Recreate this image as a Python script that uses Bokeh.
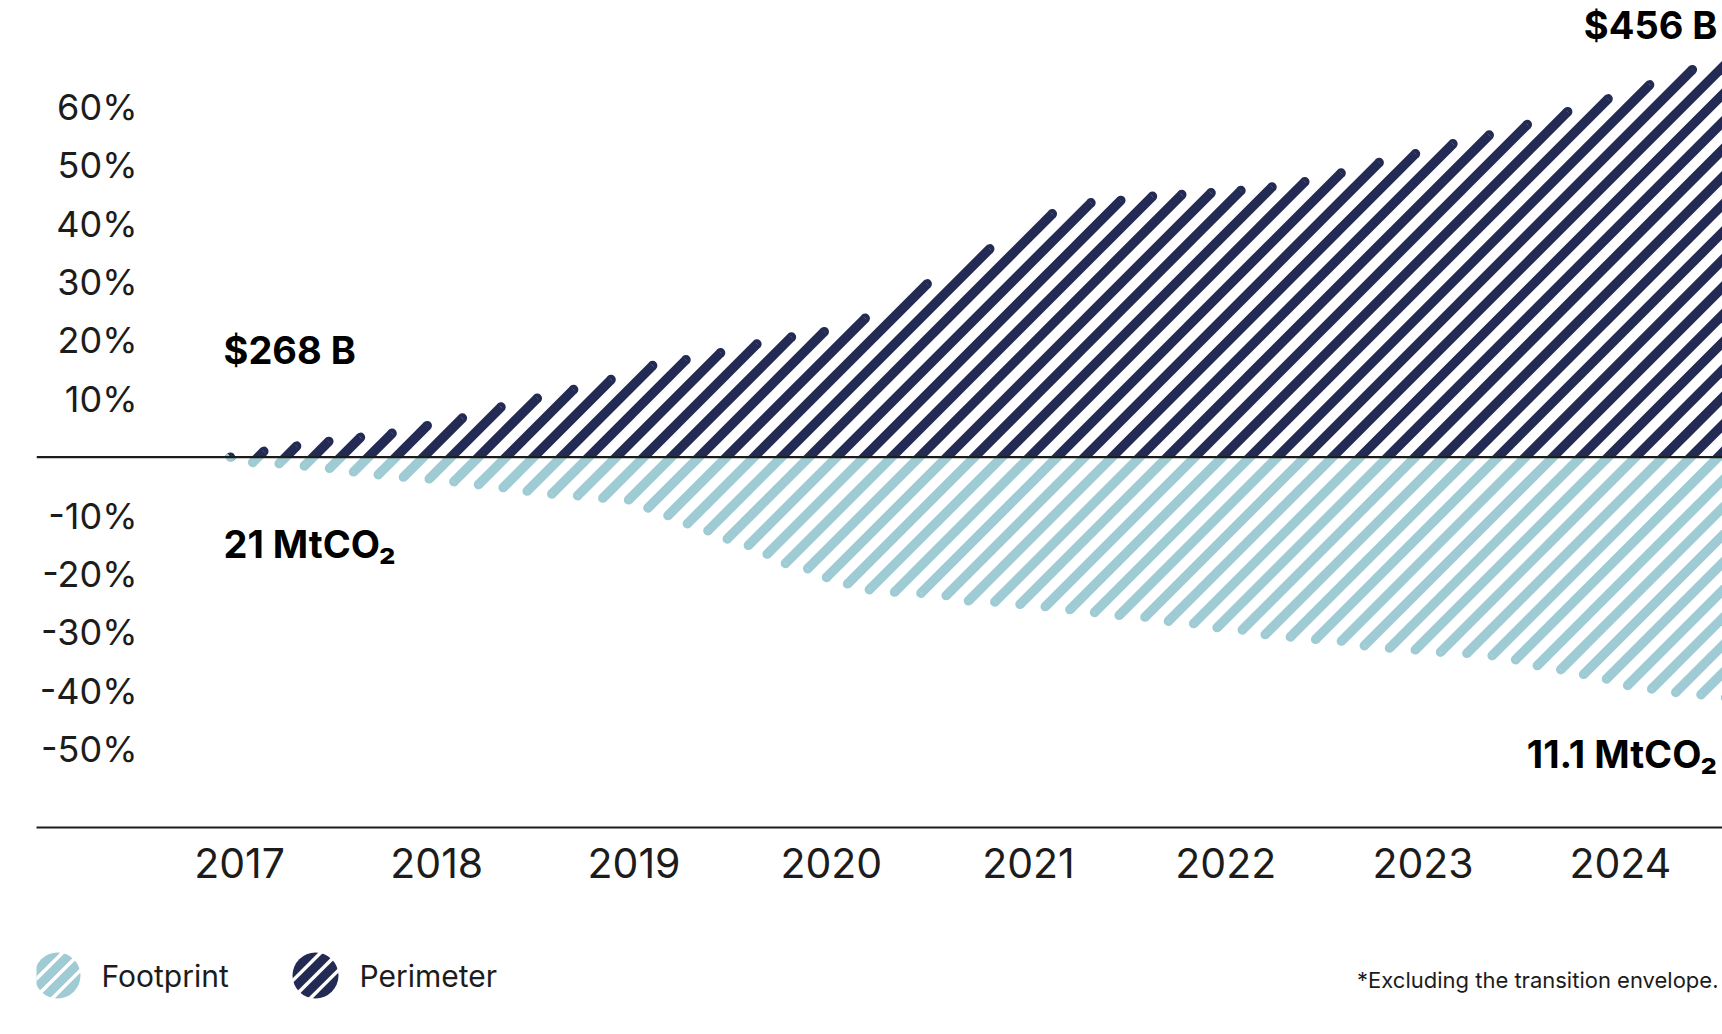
import numpy as np
from bokeh.plotting import figure
from bokeh.models import Range1d, FixedTicker, PrintfTickFormatter, Span, Label
from bokeh.layouts import column
from bokeh.embed import file_html
from bokeh.resources import INLINE
from bokeh.core.properties import value

# ---------------- data ----------------
year_ticks = [2017, 2018, 2019, 2020, 2021, 2022, 2023, 2024]
pct_ticks = [-50, -40, -30, -20, -10, 10, 20, 30, 40, 50, 60]

# each stripe crosses the zero line at a date (decimal years)
stripe_start = 2016.954
stripe_step = 0.13966

# Perimeter change vs. start (%), one value per stripe
perimeter_pct = [0.0, 1.0, 1.9, 2.7, 3.4, 4.1, 5.4, 6.7, 8.6, 10.1,
                 11.6, 13.3, 15.7, 16.7, 17.9, 19.4, 20.6, 21.5, 23.8, 29.7,
                 35.7, 41.7, 43.6, 44.0, 44.7, 45.0, 45.3, 45.7, 46.3, 47.2,
                 48.7, 50.5, 52.0, 53.7, 55.2, 57.0, 59.2, 61.4, 63.8, 66.4,
                 68.6, 69.4, 69.8, 70.0, 70.0, 70.0, 70.0, 70.0, 70.0, 70.0,
                 70.0, 70.0, 70.0, 70.0, 70.0]

# Footprint reduction vs. start (%), one value per stripe
footprint_pct = [0.0, 0.9, 1.1, 1.5, 1.9, 2.5, 3.0, 3.4, 3.7, 4.2,
                 4.7, 5.2, 5.8, 6.3, 6.6, 7.0, 7.3, 8.7, 10.0, 11.4,
                 12.6, 14.0, 15.1, 16.6, 18.2, 19.1, 20.6, 21.7, 22.7, 23.1,
                 23.3, 23.7, 24.6, 24.8, 25.2, 25.6, 26.1, 26.6, 27.1, 27.4,
                 28.1, 28.5, 29.2, 29.6, 30.4, 30.8, 31.2, 31.5, 32.3, 32.7,
                 33.0, 33.4, 33.6, 34.0, 34.7, 35.7, 36.4, 37.2, 38.0, 39.1,
                 39.7, 40.3, 40.7, 41.2]

series_names = ["Footprint", "Perimeter"]
perimeter_start, perimeter_end = "$268 B", "$456 B"
footprint_start, footprint_end = "21 MtCO\u2082", "11.1 MtCO\u2082"
footnote = "*Excluding the transition envelope."

# ---------------- style ----------------
NAVY = "#232a53"
TEAL = "#9ecbd4"
INK = "#1c1c1c"
FONT = "Inter"

LEFT = 36
TOTAL_W = 1722
FW, FH = TOTAL_W - LEFT, 819
PX_PER_YEAR = 197.26
PX_PER_PCT = 5.836
X0 = 2017 + (LEFT - 239) / PX_PER_YEAR
X1 = X0 + FW / PX_PER_YEAR
Y1 = 76.886
Y0 = Y1 - FH / PX_PER_PCT
W = 9.5  # stripe thickness in px

p = figure(frame_width=FW, frame_height=FH,
           x_range=Range1d(X0, X1), y_range=Range1d(Y0, Y1),
           output_backend="svg", toolbar_location=None,
           min_border_left=LEFT, min_border_right=0,
           min_border_top=8, min_border_bottom=90)
p.outline_line_color = None
p.grid.visible = False
p.background_fill_color = "white"
p.border_fill_color = "white"


def stripe_geometry(vals, sign):
    v = sign * np.asarray(vals, dtype=float)
    b = stripe_start + stripe_step * np.arange(len(v))
    ux = 1.0 / PX_PER_YEAR
    uy = 1.0 / PX_PER_PCT
    xe = b + v * PX_PER_PCT / PX_PER_YEAR  # 45 degree stripes on screen
    hw = W / np.sqrt(2)
    q = W / (2 * np.sqrt(2))
    xs = [[bi - hw * ux, bi + hw * ux, xi + q * ux, xi - q * ux] for bi, xi in zip(b, xe)]
    ys = [[0.0, 0.0, vi - q * uy, vi + q * uy] for vi in v]
    return xs, ys, xe, v


for vals, sign, color, a0, a1 in [
    (perimeter_pct, 1, NAVY, -55, 145),
    (footprint_pct, -1, TEAL, 125, 325),
]:
    xs, ys, xe, v = stripe_geometry(vals, sign)
    p.patches(xs, ys, fill_color=color, line_color=None)
    p.wedge(x=xe, y=v, radius=W / 2, radius_units="screen",
            start_angle=np.radians(a0), end_angle=np.radians(a1),
            fill_color=color, line_color=None)

p.add_layout(Span(location=0, dimension="width", line_color=INK, line_width=2.2))

# x axis
xa = p.xaxis[0]
xa.ticker = FixedTicker(ticks=year_ticks)
xa.formatter = PrintfTickFormatter(format="%d")
xa.axis_line_color = INK
xa.axis_line_width = 2.2
xa.major_tick_line_color = None
xa.minor_tick_line_color = None
xa.major_tick_out = 0
xa.major_tick_in = 0
xa.minor_tick_out = 0
xa.minor_tick_in = 0
xa.major_label_standoff = 20
xa.major_label_text_font = FONT
xa.major_label_text_font_size = "41px"
xa.major_label_text_color = INK

# y axis (labels sit inside the chart area)
ya = p.yaxis[0]
ya.ticker = FixedTicker(ticks=pct_ticks)
ya.formatter = PrintfTickFormatter(format="%d%%")
ya.axis_line_color = None
ya.major_tick_line_color = None
ya.minor_tick_line_color = None
ya.major_tick_out = 0
ya.major_tick_in = 0
ya.minor_tick_out = 0
ya.minor_tick_in = 0
ya.major_label_standoff = -101
ya.major_label_text_font = FONT
ya.major_label_text_font_size = "36px"
ya.major_label_text_color = INK


def add_label(text, x, y, align):
    p.add_layout(Label(x=x, y=y, text=text, text_align=align, text_baseline="middle",
                       text_font=FONT, text_font_style="bold", text_font_size="38px",
                       text_color="black"))


x_left = 2017 + (223 - 239) / PX_PER_YEAR
x_right = 2017 + (1717 - 239) / PX_PER_YEAR
add_label(perimeter_start, x_left, 18.3, "left")
add_label(footprint_start, x_left, -14.9, "left")
add_label(perimeter_end, x_right, 74.1, "right")
add_label(footprint_end, x_right, -50.9, "right")

# ---------------- legend + footnote strip ----------------
LH = 109
lg = figure(frame_width=FW, frame_height=LH,
            x_range=Range1d(LEFT, TOTAL_W), y_range=Range1d(0, LH),
            output_backend="svg", toolbar_location=None,
            min_border_left=LEFT, min_border_right=0, min_border_top=0, min_border_bottom=0,
            x_axis_type=None, y_axis_type=None)
lg.outline_line_color = None
lg.grid.visible = False

icon_x = [57, 315]
icon_y = [51, 51]
icon_r = 23
lg.scatter(x=icon_x, y=icon_y, size=2 * icon_r, marker="circle",
           fill_color=[TEAL, NAVY], line_color=None)
# white diagonal stripes across each icon
s = 1 / np.sqrt(2)
x0s, y0s, x1s, y1s = [], [], [], []
for cx, cy in zip(icon_x, icon_y):
    for o in (-12.5, 0.0, 12.5):
        L = np.sqrt(icon_r ** 2 - o ** 2) + 1.5
        mx, my = cx - o * s, cy + o * s
        x0s.append(mx - L * s); y0s.append(my - L * s)
        x1s.append(mx + L * s); y1s.append(my + L * s)
lg.segment(x0=x0s, y0=y0s, x1=x1s, y1=y1s, line_color="white", line_width=3.5)

lg.text(x=[101, 359], y=[51, 51], text=series_names, text_font=value(FONT),
        text_font_size="30px", text_baseline="middle", text_color=INK)
lg.text(x=[1718], y=[47], text=[footnote], text_font=value(FONT), text_align="right",
        text_font_size="22px", text_baseline="middle", text_color=INK)

layout = column(p, lg, spacing=0)
open("out.html", "w").write(file_html(layout, INLINE))
